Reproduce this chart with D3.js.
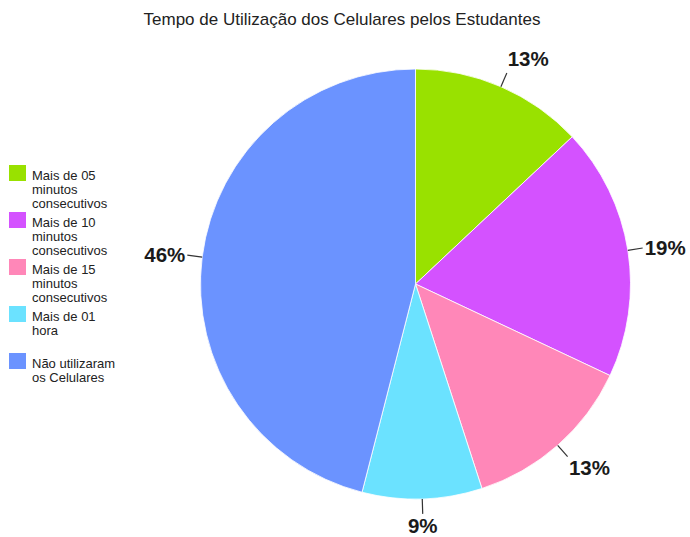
<!DOCTYPE html>
<html>
<head>
<meta charset="utf-8">
<script src="https://cdn.jsdelivr.net/npm/d3@7"></script>
<style>
  html, body { margin: 0; padding: 0; background: #fff; }
  svg { display: block; font-family: "Liberation Sans", Arial, sans-serif; }
</style>
</head>
<body>
<svg id="chart" width="690" height="537"></svg>
<script>
// Phone usage time among students (share of respondents, %)
const categories = [
  ["Mais de 05", "minutos", "consecutivos"],
  ["Mais de 10", "minutos", "consecutivos"],
  ["Mais de 15", "minutos", "consecutivos"],
  ["Mais de 01", "hora"],
  ["Não utilizaram", "os Celulares"]
];
const values = [13, 19, 13, 9, 46];
const colors = ["#99e100", "#d452ff", "#ff87b8", "#6be2ff", "#6b93ff"];
const title = "Tempo de Utilização dos Celulares pelos Estudantes";

const svg = d3.select("#chart");
const cx = 415.5, cy = 284, radius = 215;

svg.append("text")
  .attr("x", 342).attr("y", 25)
  .attr("text-anchor", "middle")
  .attr("font-size", 17)
  .attr("fill", "#222")
  .text(title);

const pie = d3.pie().sort(null).value(d => d)(values);
const arc = d3.arc().innerRadius(0).outerRadius(radius);
const lineInner = d3.arc().innerRadius(radius).outerRadius(radius);
const lineOuter = d3.arc().innerRadius(radius + 15).outerRadius(radius + 15);

const g = svg.append("g").attr("transform", `translate(${cx},${cy})`);

g.selectAll("path.slice")
  .data(pie)
  .join("path")
  .attr("class", "slice")
  .attr("d", arc)
  .attr("fill", (d, i) => colors[i])
  .attr("stroke", "#fff")
  .attr("stroke-width", 0.8);

// leader lines
g.selectAll("line.leader")
  .data(pie)
  .join("line")
  .attr("class", "leader")
  .attr("x1", d => lineInner.centroid(d)[0])
  .attr("y1", d => lineInner.centroid(d)[1])
  .attr("x2", d => lineOuter.centroid(d)[0])
  .attr("y2", d => lineOuter.centroid(d)[1])
  .attr("stroke", "#333")
  .attr("stroke-width", 1.2);

// percentage labels
g.selectAll("text.pct")
  .data(pie)
  .join("text")
  .attr("class", "pct")
  .each(function(d) {
    const a = (d.startAngle + d.endAngle) / 2;
    const r = radius + 17;
    const sx = Math.sin(a), sy = -Math.cos(a);
    const x = r * sx, y = r * sy;
    let anchor = "middle";
    if (Math.abs(sx) > 0.1) anchor = sx > 0 ? "start" : "end";
    let dy = "0.35em";
    if (sy < -0.7) dy = "-0.25em";
    else if (sy > 0.7) dy = "0.85em";
    d3.select(this).attr("x", x).attr("y", y).attr("dy", dy).attr("text-anchor", anchor);
  })
  .attr("font-size", 20.5)
  .attr("font-weight", "bold")
  .attr("fill", "#1a1a1a")
  .text(d => d.data + "%");

// legend
const legend = svg.append("g").attr("transform", "translate(9,165)");
const item = legend.selectAll("g.item")
  .data(categories)
  .join("g")
  .attr("class", "item")
  .attr("transform", (d, i) => `translate(0,${i * 47})`);

item.append("rect")
  .attr("width", 17).attr("height", 16)
  .attr("fill", (d, i) => colors[i]);

item.each(function(lines) {
  const t = d3.select(this).append("text")
    .attr("x", 23).attr("y", 14.5)
    .attr("font-size", 13)
    .attr("fill", "#222");
  lines.forEach((s, k) => {
    t.append("tspan").attr("x", 23).attr("dy", k === 0 ? 0 : 14).text(s);
  });
});
</script>
</body>
</html>
